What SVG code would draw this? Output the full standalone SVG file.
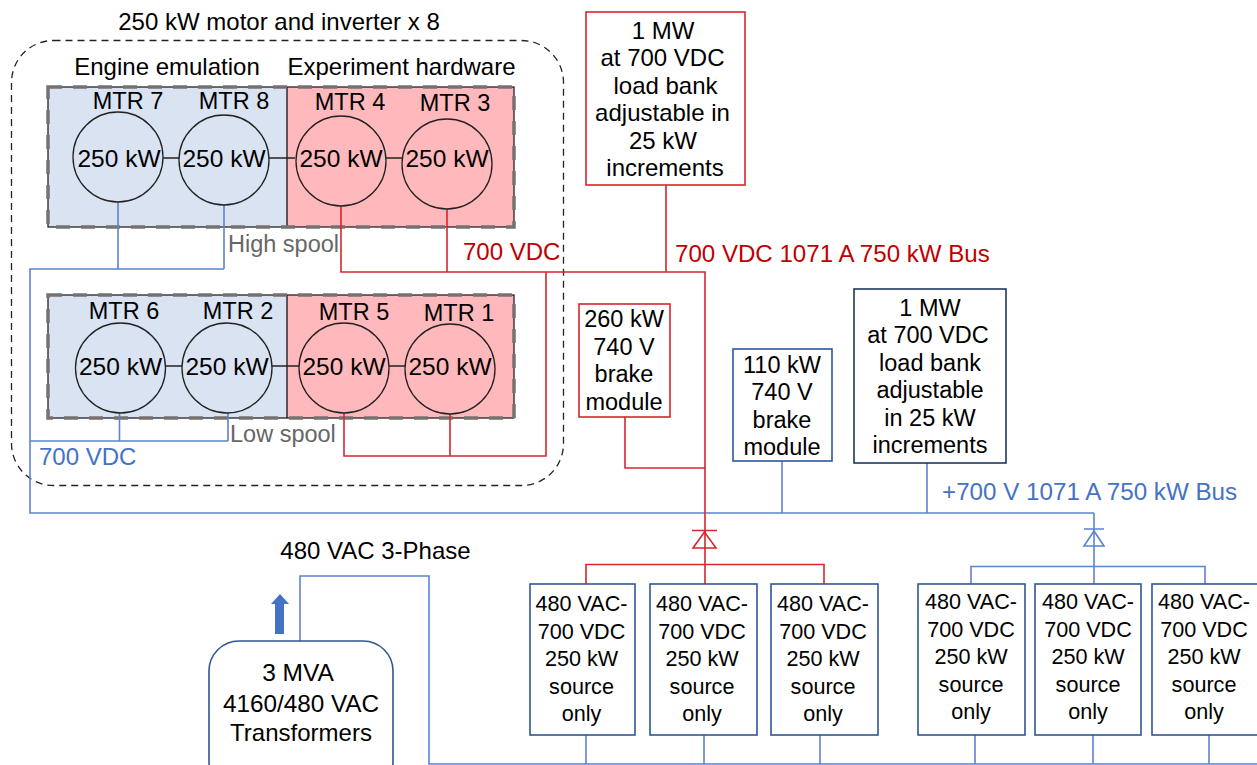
<svg xmlns="http://www.w3.org/2000/svg" width="1257" height="765" viewBox="0 0 1257 765">
<style>
text{font-family:"Liberation Sans",Arial,sans-serif;font-size:24px;fill:#000;text-anchor:middle}
.s{text-anchor:start}
.k{font-size:24.5px}
.v{font-size:21.6px}
.n{font-size:23.5px}
.bl{fill:#4472c4}.rd{fill:#c00000}.gy{fill:#666}
.m{fill:none;stroke:#222;stroke-width:1.3}
.mb{fill:#d9e3f2}.mr{fill:#ffb9bc}
.w{fill:none;stroke-width:1.6;stroke-linejoin:miter}
.wb{stroke:#5b84cf}.wr{stroke:#d8262c}
.box{fill:#fff;stroke:#2f5597;stroke-width:1.6}
.grp{fill:none;stroke:#767171;stroke-width:3.5;stroke-dasharray:14 11}
</style>
<rect width="1257" height="765" fill="#fff"/>
<rect id="outer" x="11.500" y="40.500" width="552" height="445" rx="42" fill="none" stroke="#222" stroke-width="1.3" stroke-dasharray="7 5"/>
<text x="279" y="30">250 kW motor and inverter x 8</text>
<text x="167" y="74.500">Engine emulation</text>
<text x="401.500" y="74.500">Experiment hardware</text>

<g id="group-high">
<rect class="mb" x="48" y="87" width="239" height="140"/><rect class="mr" x="287" y="87" width="227" height="140"/>
<path d="M287 87V227" stroke="#111" stroke-width="1.3"/><rect x="48" y="87" width="466" height="140" fill="none" stroke="#111" stroke-width="1.2"/>
<rect class="grp" x="48" y="87" width="466" height="140"/>
</g>
<g id="group-low">
<rect class="mb" x="48" y="295" width="239" height="123"/><rect class="mr" x="287" y="295" width="227" height="123"/>
<path d="M287 295V418" stroke="#111" stroke-width="1.3"/><rect x="48" y="295" width="466" height="123" fill="none" stroke="#111" stroke-width="1.2"/>
<rect class="grp" x="48" y="295" width="466" height="123"/>
</g>

<g id="connectors">
<path class="w wb" d="M118 202V269M224 205V269M224 269H30V513H1094M228 413V441M119.500 413V441H30M228 441H119.500M782 461V513M927 463V513M1094 513V584M971 584V566.500H1205V584M586 735V764M704 735V764M820 735V764M975 735V764M1093 735V764M1209 735V764M300 641V576H429V764H1257"/>
<path class="w wr" d="M341 206V272H705V584M447 209V272M546 272V456H344V413M450 414V456M666 185V272M625 417V468H705M586 584V564.500H824V584"/>
<path class="w wr" d="M692 530.500H717M704.500 532L693 548H716Z"/>
<path class="w wb" d="M1084 529H1104M1094 531L1084 546H1104Z"/>
<path d="M163 158H179M269 158H295M386 158H402M166 366H182M272 366H299M389 366H405" stroke="#222" stroke-width="1.3" fill="none"/>
</g>

<g id="mtr7"><circle class="m" cx="118" cy="157" r="45"/><text x="128" y="108.500" class="n">MTR 7</text><text x="119" y="167" class="k">250 kW</text></g>
<g id="mtr8"><circle class="m" cx="224" cy="160" r="45"/><text x="234" y="108.500" class="n">MTR 8</text><text x="224" y="167" class="k">250 kW</text></g>
<g id="mtr4"><circle class="m" cx="341" cy="161" r="45"/><text x="350" y="109.500" class="n">MTR 4</text><text x="341" y="167" class="k">250 kW</text></g>
<g id="mtr3"><circle class="m" cx="447" cy="164" r="45"/><text x="455" y="110.500" class="n">MTR 3</text><text x="447" y="167" class="k">250 kW</text></g>
<g id="mtr6"><circle class="m" cx="120.500" cy="368" r="45"/><text x="124" y="319" class="n">MTR 6</text><text x="120.500" y="375" class="k">250 kW</text></g>
<g id="mtr2"><circle class="m" cx="227" cy="368" r="45"/><text x="238" y="319" class="n">MTR 2</text><text x="227" y="375" class="k">250 kW</text></g>
<g id="mtr5"><circle class="m" cx="344" cy="368" r="45"/><text x="354" y="320" class="n">MTR 5</text><text x="344" y="375" class="k">250 kW</text></g>
<g id="mtr1"><circle class="m" cx="450" cy="369" r="45"/><text x="459" y="321" class="n">MTR 1</text><text x="450" y="375" class="k">250 kW</text></g>

<text class="s gy" x="228" y="252" style="font-size:23.5px">High spool</text>
<text class="s gy" x="230" y="442" style="font-size:23.5px">Low spool</text>
<text class="s rd" x="463" y="260">700 VDC</text>
<text class="s bl" x="39" y="465">700 VDC</text>
<text class="s rd" x="675" y="262" style="font-size:24.1px">700 VDC 1071 A 750 kW Bus</text>
<text class="s bl" x="942" y="500" style="font-size:24.2px">+700 V 1071 A 750 kW Bus</text>
<text x="375.500" y="559">480 VAC 3-Phase</text>

<g id="loadbank-red"><rect x="586" y="12" width="159" height="173" fill="#fff" stroke="#d8262c" stroke-width="1.6"/>
<text x="663" y="39">1 MW</text><text x="662.500" y="66">at 700 VDC</text><text x="665.500" y="94">load bank</text><text x="662.500" y="121">adjustable in</text><text x="663" y="149">25 kW</text><text x="665" y="176">increments</text></g>
<g id="brake-260"><rect x="579" y="304" width="91" height="113" fill="#fff" stroke="#d8262c" stroke-width="1.6"/>
<g class="n"><text class="n" x="624" y="327">260 kW</text><text class="n" x="624" y="355">740 V</text><text class="n" x="624" y="382">brake</text><text class="n" x="624" y="410">module</text></g></g>
<g id="brake-110"><rect class="box" x="733" y="349" width="99" height="112"/>
<text class="n" x="782" y="373">110 kW</text><text class="n" x="782" y="400">740 V</text><text class="n" x="782" y="428">brake</text><text class="n" x="782" y="455">module</text></g>
<g id="loadbank-blue"><rect x="854" y="289" width="152" height="174" fill="#fff" stroke="#1f3864" stroke-width="1.6"/>
<text class="n" x="930" y="316">1 MW</text><text class="n" x="928" y="343">at 700 VDC</text><text class="n" x="930" y="371">load bank</text><text class="n" x="930" y="398">adjustable</text><text class="n" x="930" y="426">in 25 kW</text><text class="n" x="930" y="453">increments</text></g>

<g id="src1"><rect class="box" x="530" y="584" width="105" height="151"/><text class="v" x="581.500" y="611">480 VAC-</text><text class="v" x="581.500" y="639">700 VDC</text><text class="v" x="581.500" y="666">250 kW</text><text class="v" x="581.500" y="694">source</text><text class="v" x="581.500" y="721">only</text></g>
<g id="src2"><rect class="box" x="650" y="584" width="107" height="151"/><text class="v" x="702" y="611">480 VAC-</text><text class="v" x="702" y="639">700 VDC</text><text class="v" x="702" y="666">250 kW</text><text class="v" x="702" y="694">source</text><text class="v" x="702" y="721">only</text></g>
<g id="src3"><rect class="box" x="771" y="584" width="107" height="151"/><text class="v" x="823" y="611">480 VAC-</text><text class="v" x="823" y="639">700 VDC</text><text class="v" x="823" y="666">250 kW</text><text class="v" x="823" y="694">source</text><text class="v" x="823" y="721">only</text></g>
<g id="src4"><rect class="box" x="918" y="584" width="107" height="151"/><text class="v" x="971" y="609">480 VAC-</text><text class="v" x="971" y="637">700 VDC</text><text class="v" x="971" y="664">250 kW</text><text class="v" x="971" y="692">source</text><text class="v" x="971" y="719">only</text></g>
<g id="src5"><rect class="box" x="1035" y="584" width="106" height="151"/><text class="v" x="1088" y="609">480 VAC-</text><text class="v" x="1088" y="637">700 VDC</text><text class="v" x="1088" y="664">250 kW</text><text class="v" x="1088" y="692">source</text><text class="v" x="1088" y="719">only</text></g>
<g id="src6"><rect class="box" x="1152" y="584" width="110" height="151"/><text class="v" x="1204" y="609">480 VAC-</text><text class="v" x="1204" y="637">700 VDC</text><text class="v" x="1204" y="664">250 kW</text><text class="v" x="1204" y="692">source</text><text class="v" x="1204" y="719">only</text></g>

<g id="transformer"><rect x="209" y="641" width="184" height="150" rx="30" fill="#fff" stroke="#2f5597" stroke-width="1.6"/>
<text x="298" y="681" class="k">3 MVA</text><text x="301" y="712" style="font-size:24.3px">4160/480 VAC</text><text x="301" y="741">Transformers</text></g>
<path id="arrow-up" d="M280 594L289 604H284V634H275V604H271Z" fill="#4472c4"/>
</svg>
